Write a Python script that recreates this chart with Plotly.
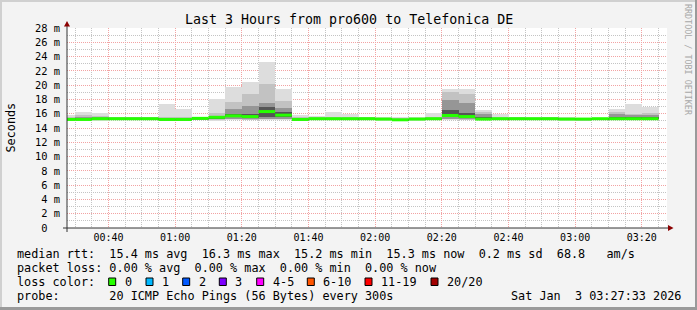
import plotly.graph_objects as go
import pandas as pd

# ---------------- data ----------------
TITLE = "Last 3 Hours from pro600 to Telefonica DE"
Y_LABEL = "Seconds"
WATERMARK = "RRDTOOL / TOBI OETIKER"

# end of each 5-minute step (rrdtool style)
interval_end = pd.date_range("2026-01-03 00:30", periods=36, freq="5min")

median_ms = [15.2, 15.2, 15.3, 15.3, 15.3, 15.3, 15.2, 15.2, 15.35, 15.5, 15.7, 15.6,
             16.3, 15.8, 15.2, 15.3, 15.3, 15.3, 15.3, 15.25, 15.15, 15.25, 15.3, 15.75,
             15.6, 15.25, 15.3, 15.3, 15.3, 15.3, 15.25, 15.25, 15.3, 15.3, 15.3, 15.3]
rtt_max = [15.8, 16.3, 16.1, 15.6, 15.6, 15.6, 17.4, 16.6, 15.5, 18.0, 19.7, 20.5,
           23.3, 19.4, 15.8, 15.7, 16.2, 15.9, 15.6, 15.6, 15.5, 15.6, 16.1, 19.5,
           19.4, 16.5, 15.9, 15.6, 15.5, 15.6, 15.5, 15.4, 15.4, 16.6, 17.3, 16.9]
rtt_p90 = [15.5, 15.8, 15.7, 15.5, 15.5, 15.5, 15.5, 15.5, 15.45, 16.1, 17.7, 18.7,
           20.2, 17.8, 15.5, 15.5, 15.6, 15.5, 15.5, 15.45, 15.4, 15.45, 15.6, 19.1,
           18.7, 16.2, 15.5, 15.5, 15.45, 15.5, 15.4, 15.35, 15.4, 16.2, 16.0, 16.1]
rtt_p75 = [15.4, 15.6, 15.5, 15.4, 15.4, 15.4, 15.35, 15.35, 15.4, 15.7, 16.6, 17.1,
           17.5, 16.8, 15.35, 15.4, 15.45, 15.4, 15.4, 15.35, 15.3, 15.35, 15.45, 17.9,
           17.5, 15.9, 15.4, 15.4, 15.4, 15.4, 15.35, 15.3, 15.35, 15.9, 15.8, 15.8]
rtt_p60 = [15.3, 15.3, 15.35, 15.35, 15.35, 15.35, 15.25, 15.25, 15.4, 15.6, 16.0, 16.0,
           17.0, 16.2, 15.25, 15.35, 15.35, 15.35, 15.35, 15.3, 15.2, 15.3, 15.35, 16.5,
           16.1, 15.5, 15.35, 15.35, 15.35, 15.35, 15.3, 15.3, 15.3, 15.6, 15.5, 15.5]
rtt_p40 = [15.15, 15.15, 15.25, 15.25, 15.25, 15.25, 15.15, 15.15, 15.3, 15.3, 15.5, 15.4,
           15.5, 15.5, 15.15, 15.25, 15.25, 15.25, 15.25, 15.2, 15.1, 15.2, 15.25, 15.5,
           15.4, 15.3, 15.25, 15.25, 15.25, 15.25, 15.2, 15.2, 15.25, 15.3, 15.3, 15.3]
rtt_p25 = [15.1, 15.1, 15.2, 15.2, 15.2, 15.2, 15.1, 15.1, 15.2, 15.2, 15.3, 15.25,
           15.3, 15.3, 15.1, 15.2, 15.2, 15.2, 15.2, 15.15, 15.05, 15.15, 15.2, 15.3,
           15.25, 15.2, 15.2, 15.2, 15.2, 15.2, 15.15, 15.15, 15.2, 15.2, 15.2, 15.2]
rtt_p10 = [15.05, 15.05, 15.1, 15.15, 15.15, 15.15, 15.05, 15.05, 15.15, 15.1, 15.2, 15.15,
           15.2, 15.2, 15.05, 15.15, 15.15, 15.15, 15.15, 15.1, 15.0, 15.1, 15.15, 15.2,
           15.15, 15.15, 15.15, 15.15, 15.15, 15.15, 15.1, 15.1, 15.15, 15.15, 15.15, 15.15]
rtt_min = [15.0, 15.0, 15.05, 15.1, 15.1, 15.1, 15.0, 15.0, 15.1, 15.0, 15.1, 15.1,
           15.1, 15.1, 15.0, 15.1, 15.1, 15.1, 15.1, 15.05, 14.95, 15.05, 15.1, 15.1,
           15.1, 15.1, 15.1, 15.1, 15.1, 15.1, 15.05, 15.05, 15.1, 15.1, 15.1, 15.1]

y_tick_vals = list(range(0, 29, 2))
y_tick_text = ["0\u00a0\u00a0"] + [f"{v}\u00a0m" for v in y_tick_vals[1:]]

stats_lines = [
    "median rtt:  15.4 ms avg  16.3 ms max  15.2 ms min  15.3 ms now  0.2 ms sd  68.8   am/s",
    "packet loss: 0.00 % avg  0.00 % max  0.00 % min  0.00 % now",
    "loss color:",
    "probe:       20 ICMP Echo Pings (56 Bytes) every 300s",
]
date_text = "Sat Jan  3 03:27:33 2026"
loss_labels = ["0", "1", "2", "3", "4-5", "6-10", "11-19", "20/20"]
loss_colors = ["#26ff00", "#00b8ff", "#0059ff", "#7e00ff", "#ff00ff", "#ff5500", "#ff0000", "#a10000"]

# ---------------- layout geometry ----------------
W, H = 697, 310
L, R, T, B = 67, 30, 28, 82
PW, PH = W - L - R, H - T - B
MONO = "DejaVu Sans Mono"


def px(x):
    return (x - L) / PW


def py(y):
    return (T + PH - y) / PH


def nb(s):
    return s.replace(" ", "\u00a0")


STEP = 300000  # ms
fig = go.Figure()

layers = [(rtt_min, rtt_max, "#dddddd"),
          (rtt_p10, rtt_p90, "#c2c2c2"),
          (rtt_p25, rtt_p75, "#969696"),
          (rtt_p40, rtt_p60, "#555555")]
for lo, hi, col in layers:
    fig.add_trace(go.Bar(
        x=interval_end, base=lo, y=[h - l for h, l in zip(hi, lo)],
        width=STEP, offset=-STEP,
        marker=dict(color=col, line=dict(width=0)),
        showlegend=False, hoverinfo="skip"))

seg_x, seg_y = [], []
for t, m in zip(interval_end, median_ms):
    seg_x += [(t - pd.Timedelta(minutes=5)).strftime("%Y-%m-%d %H:%M:%S"),
              t.strftime("%Y-%m-%d %H:%M:%S"), None]
    seg_y += [m, m, None]
fig.add_trace(go.Scatter(x=seg_x, y=seg_y, mode="lines",
                         line=dict(color=loss_colors[0], width=3),
                         showlegend=False, hoverinfo="skip"))

major_grid = "#f2a3a3"
minor_grid = "#c4c4c4"
fig.update_layout(
    width=W, height=H,
    margin=dict(l=L, r=R, t=T, b=B, pad=0),
    paper_bgcolor="#f3f3f3", plot_bgcolor="#ffffff",
    barmode="overlay", bargap=0,
    showlegend=False,
    font=dict(family=MONO, size=10, color="#000000"),
    xaxis=dict(
        type="date",
        range=["2026-01-03 00:27:33", "2026-01-03 03:27:33"],
        tick0="2026-01-03 00:00:00", dtick=1200000, tickformat="%H:%M",
        showgrid=True, gridcolor=major_grid, griddash="1px,1px", gridwidth=1,
        minor=dict(tick0="2026-01-03 00:00:00", dtick=STEP, showgrid=True,
                   gridcolor=minor_grid, griddash="1px,1px", gridwidth=1),
        showline=False, zeroline=False, ticks="",
        tickfont=dict(family=MONO, size=10), ticklabelstandoff=2,
        fixedrange=True,
    ),
    yaxis=dict(
        range=[0, 28], tickvals=y_tick_vals, ticktext=y_tick_text,
        showgrid=True, gridcolor=major_grid, griddash="1px,1px", gridwidth=1,
        minor=dict(dtick=1, tick0=0, showgrid=True,
                   gridcolor=minor_grid, griddash="1px,1px", gridwidth=1),
        showline=False, zeroline=False, ticks="",
        tickfont=dict(family=MONO, size=10.4), ticklabelstandoff=6,
        fixedrange=True,
    ),
)

shapes = []
axis_col = "#333333"
arrow_col = "#8b0000"
# axes with extensions
shapes.append(dict(type="line", xref="paper", yref="paper", x0=px(63), x1=px(669),
                   y0=py(228), y1=py(228), line=dict(color=axis_col, width=1), layer="above"))
shapes.append(dict(type="line", xref="paper", yref="paper", x0=px(67), x1=px(67),
                   y0=py(232), y1=py(24), line=dict(color=axis_col, width=1), layer="above"))
# arrows
shapes.append(dict(type="path", xref="paper", yref="paper",
                   path=f"M {px(668)},{py(225)} L {px(673.5)},{py(228)} L {px(668)},{py(231)} Z",
                   fillcolor=arrow_col, line=dict(width=0), layer="above"))
shapes.append(dict(type="path", xref="paper", yref="paper",
                   path=f"M {px(64)},{py(26.5)} L {px(67)},{py(21)} L {px(70)},{py(26.5)} Z",
                   fillcolor=arrow_col, line=dict(width=0), layer="above"))
# 3D frame
shapes.append(dict(type="rect", xref="paper", yref="paper", x0=px(0), x1=px(W), y0=py(0), y1=py(2),
                   fillcolor="#d0d0d0", line=dict(width=0), layer="above"))
shapes.append(dict(type="rect", xref="paper", yref="paper", x0=px(0), x1=px(2), y0=py(0), y1=py(H),
                   fillcolor="#d0d0d0", line=dict(width=0), layer="above"))
shapes.append(dict(type="rect", xref="paper", yref="paper", x0=px(0), x1=px(W), y0=py(H - 3), y1=py(H),
                   fillcolor="#9a9a9a", line=dict(width=0), layer="above"))
shapes.append(dict(type="rect", xref="paper", yref="paper", x0=px(W - 2), x1=px(W), y0=py(0), y1=py(H),
                   fillcolor="#9a9a9a", line=dict(width=0), layer="above"))

annotations = []
FS = 11.8
annotations.append(dict(text=nb(TITLE), x=px(348.5), y=py(19), xref="paper", yref="paper",
                        xanchor="center", yanchor="middle", showarrow=False,
                        font=dict(family=MONO, size=13.3, color="#000")))
annotations.append(dict(text=Y_LABEL, x=px(10.5), y=py(128), xref="paper", yref="paper",
                        xanchor="center", yanchor="middle", showarrow=False, textangle=-90,
                        font=dict(family=MONO, size=FS, color="#000")))
annotations.append(dict(text=nb(WATERMARK), x=px(688), y=py(60), xref="paper", yref="paper",
                        xanchor="center", yanchor="middle", showarrow=False, textangle=90,
                        font=dict(family=MONO, size=8.4, color="#a8a8a8")))
line_y = [254.3, 268.2, 282, 296]
for txt, yy in zip(stats_lines, line_y):
    annotations.append(dict(text=nb(txt), x=px(15), y=py(yy), xref="paper", yref="paper",
                            xanchor="left", yanchor="middle", showarrow=False,
                            font=dict(family=MONO, size=FS, color="#000")))
annotations.append(dict(text=nb(date_text), x=px(682.5), y=py(296), xref="paper", yref="paper",
                        xanchor="right", yanchor="middle", showarrow=False,
                        font=dict(family=MONO, size=FS, color="#000")))

box_left = [108.7, 146, 182.7, 219.3, 256.7, 307.3, 365, 431]
for bx, lab, col in zip(box_left, loss_labels, loss_colors):
    shapes.append(dict(type="rect", xref="paper", yref="paper",
                       x0=px(bx), x1=px(bx + 7), y0=py(278), y1=py(285.5),
                       fillcolor=col, line=dict(color="#000", width=1), layer="above"))
    annotations.append(dict(text=nb(lab), x=px(bx + 14), y=py(282), xref="paper", yref="paper",
                            xanchor="left", yanchor="middle", showarrow=False,
                            font=dict(family=MONO, size=FS, color="#000")))

fig.update_layout(shapes=shapes, annotations=annotations)
fig.write_html("out.html", config=dict(displayModeBar=False))
